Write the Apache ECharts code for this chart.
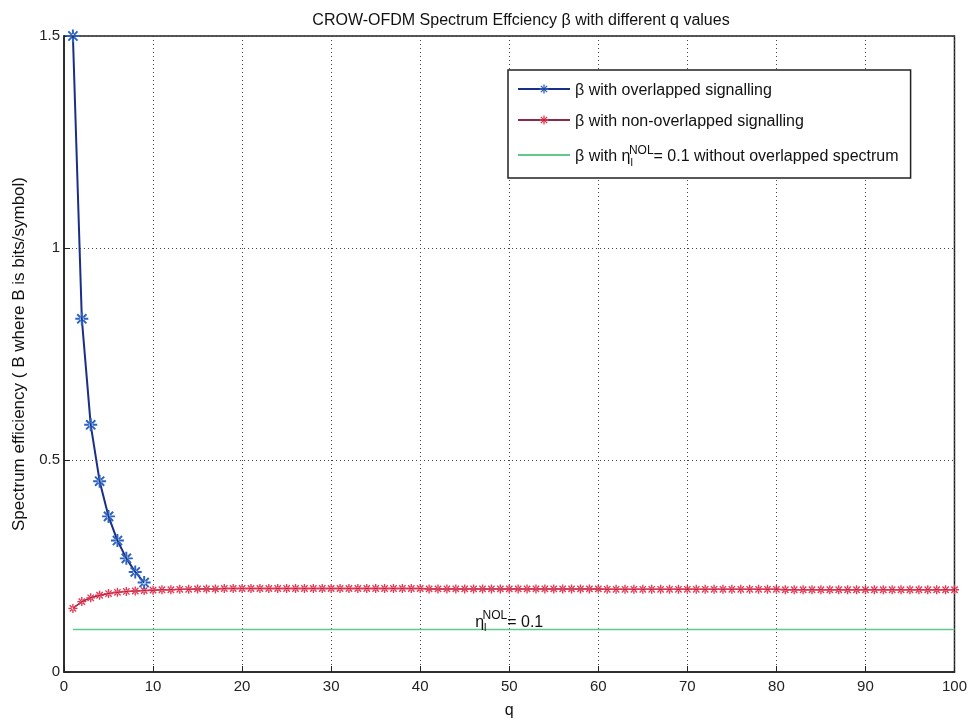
<!DOCTYPE html>
<html><head><meta charset="utf-8">
<script src="https://cdn.jsdelivr.net/npm/echarts@6/dist/echarts.min.js"></script>
<style>html,body{margin:0;padding:0;background:#fff}#c{width:970px;height:724px}</style>
</head><body><div id="c"></div>
<script>
// ---- data ----
const titleText = 'CROW-OFDM Spectrum Effciency β with different q values';
const xAxisName = 'q';
const yAxisName = 'Spectrum efficiency ( B where B is bits/symbol)';
const seriesNames = ['β with overlapped signalling', 'β with non-overlapped signalling', 'β with η NOL= 0.1 without overlapped spectrum'];
const xTickMin = 0, xTickMax = 100, xTickStep = 10;
const yTickMin = 0, yTickMax = 1.5, yTickStep = 0.5;

const qOverlap = [1, 2, 3, 4, 5, 6, 7, 8, 9];
const betaOverlap = [1.5, 0.833, 0.583, 0.45, 0.367, 0.31, 0.268, 0.236, 0.211];

const qNonOverlap = [1,2,3,4,5,6,7,8,9,10,11,12,13,14,15,16,17,18,19,20,
  21,22,23,24,25,26,27,28,29,30,31,32,33,34,35,36,37,38,39,40,
  41,42,43,44,45,46,47,48,49,50,51,52,53,54,55,56,57,58,59,60,
  61,62,63,64,65,66,67,68,69,70,71,72,73,74,75,76,77,78,79,80,
  81,82,83,84,85,86,87,88,89,90,91,92,93,94,95,96,97,98,99,100];
const betaNonOverlap = [0.150,0.166,0.175,0.181,0.185,0.188,0.190,0.191,0.192,0.193,
  0.194,0.194,0.195,0.195,0.196,0.196,0.196,0.197,0.197,0.197,
  0.197,0.197,0.197,0.197,0.197,0.197,0.197,0.197,0.197,0.197,
  0.197,0.197,0.197,0.197,0.197,0.197,0.197,0.197,0.197,0.197,
  0.196,0.196,0.196,0.196,0.196,0.196,0.196,0.196,0.196,0.196,
  0.196,0.196,0.196,0.196,0.196,0.196,0.196,0.196,0.196,0.196,
  0.195,0.195,0.195,0.195,0.195,0.195,0.195,0.195,0.195,0.195,
  0.195,0.195,0.195,0.195,0.195,0.195,0.195,0.195,0.195,0.195,
  0.194,0.194,0.194,0.194,0.194,0.194,0.194,0.194,0.194,0.194,
  0.194,0.194,0.194,0.194,0.194,0.194,0.194,0.194,0.194,0.194];

const qNol = [1, 100];
const betaNol = [0.1, 0.1];
const annotQ = 50.0, annotBeta = 0.1;

// ---- chart ----
const pairs = (xs, ys) => xs.map((x, i) => [x, ys[i]]);
const star = 'path://M-10,-1.5L10,-1.5L10,1.5L-10,1.5Z M-1.5,-10L1.5,-10L1.5,10L-1.5,10Z M6.01,8.13L8.13,6.01L-6.01,-8.13L-8.13,-6.01Z M8.13,-6.01L6.01,-8.13L-8.13,6.01L-6.01,8.13Z';
const font = '"Liberation Sans", Arial, sans-serif';
function etaRich(fs) {
  return {
    t: {fontSize: fs, fontFamily: font, color: '#111', lineHeight: 20, verticalAlign: 'bottom'},
    sub: {fontSize: fs - 5, fontFamily: font, color: '#111', lineHeight: 20, verticalAlign: 'bottom', padding: [0, 0, -3, 0]},
    sup: {fontSize: fs - 4, fontFamily: font, color: '#111', lineHeight: 20, verticalAlign: 'top', padding: [0, 0, 0, -4]}
  };
}

const chart = echarts.init(document.getElementById('c'), null, {renderer: 'canvas'});
chart.setOption({
  animation: false,
  backgroundColor: '#fff',
  title: {text: titleText, left: 516, textAlign: 'center', top: 8,
    textStyle: {fontSize: 16, fontWeight: 'normal', color: '#111', fontFamily: font}},
  grid: {left: 64, right: 12, top: 36, bottom: 48, show: true, borderColor: '#222', borderWidth: 1.5, containLabel: false},
  legend: {
    orient: 'vertical', left: 508, top: 70, padding: [13, 12, 10, 9], itemGap: 15,
    itemWidth: 52, itemHeight: 11, borderColor: '#222', borderWidth: 1.5, backgroundColor: '#fff',
    data: [seriesNames[0], seriesNames[1], {name: seriesNames[2], itemStyle: {opacity: 0}}],
    textStyle: {fontSize: 16, fontFamily: font, color: '#111', rich: etaRich(16)},
    formatter: function (name) {
      if (name === seriesNames[2]) return '{t|β with η}{sub|l}{sup|NOL}{t|= 0.1 without overlapped spectrum}';
      return '{t|' + name + '}';
    }
  },
  xAxis: {type: 'value', min: xTickMin, max: xTickMax, interval: xTickStep,
    name: xAxisName, nameLocation: 'middle', nameGap: 31,
    nameTextStyle: {fontSize: 16, color: '#111', fontFamily: font},
    axisLine: {show: true, lineStyle: {color: '#222', width: 1.5}},
    axisTick: {show: true, inside: true, length: 6, lineStyle: {color: '#222'}},
    axisLabel: {fontSize: 15, color: '#222', fontFamily: font, margin: 7},
    splitLine: {show: true, lineStyle: {color: '#444', type: [1, 3], width: 1}}},
  yAxis: {type: 'value', min: yTickMin, max: yTickMax, interval: yTickStep,
    name: yAxisName, nameLocation: 'middle', nameGap: 32,
    nameTextStyle: {fontSize: 17, color: '#111', fontFamily: font},
    axisLine: {show: true, lineStyle: {color: '#222', width: 1.5}},
    axisTick: {show: true, inside: true, length: 6, lineStyle: {color: '#222'}},
    axisLabel: {fontSize: 15, color: '#222', fontFamily: font, margin: 4},
    splitLine: {show: true, lineStyle: {color: '#444', type: [1, 3], width: 1}}},
  series: [
    {name: seriesNames[0], type: 'line', data: pairs(qOverlap, betaOverlap),
      symbol: star, symbolSize: 13, showAllSymbol: true, clip: false,
      lineStyle: {color: '#1b2f86', width: 2}, itemStyle: {color: '#2d63c0'}, z: 3},
    {name: seriesNames[1], type: 'line', data: pairs(qNonOverlap, betaNonOverlap),
      symbol: star, symbolSize: 9, showAllSymbol: true,
      lineStyle: {color: '#8a2a44', width: 1.5}, itemStyle: {color: '#e8334f'}, z: 2},
    {name: seriesNames[2], type: 'line', data: pairs(qNol, betaNol),
      symbol: 'none', lineStyle: {color: '#62c98b', width: 1.5}, itemStyle: {color: '#62c98b'}, z: 1,
      markPoint: {symbol: 'circle', symbolSize: 1, itemStyle: {color: 'rgba(0,0,0,0)'},
        data: [{coord: [annotQ, annotBeta]}],
        label: {show: true, position: 'top', distance: -1,
          formatter: '{t|η}{sub|l}{sup|NOL}{t|= 0.1}', rich: etaRich(16)}}}
  ]
});
</script></body></html>
